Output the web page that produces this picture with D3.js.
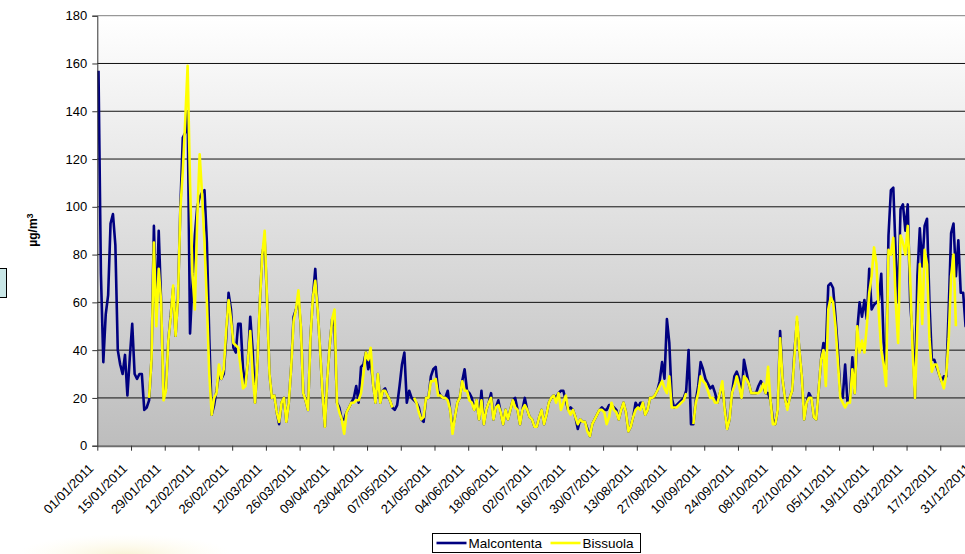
<!DOCTYPE html>
<html>
<head>
<meta charset="utf-8">
<script src="https://cdn.jsdelivr.net/npm/d3@7"></script>
<style>
body { margin: 0; background: #fff; }
svg { display: block; font-family: "Liberation Sans", Arial, sans-serif; }
</style>
</head>
<body>
<div class="chart-container"></div>
<script>
const width = 965;
const height = 554;

// tick labels, one every 14 days
const tickLabels = ["01/01/2011","15/01/2011","29/01/2011","12/02/2011","26/02/2011","12/03/2011","26/03/2011",
    "09/04/2011","23/04/2011","07/05/2011","21/05/2011","04/06/2011","18/06/2011","02/07/2011","16/07/2011",
    "30/07/2011","13/08/2011","27/08/2011","10/09/2011","24/09/2011","08/10/2011","22/10/2011","05/11/2011",
    "19/11/2011","03/12/2011","17/12/2011","31/12/2011"];
const labelEvery = 14;
const yTicks = [0, 20, 40, 60, 80, 100, 120, 140, 160, 180];
const seriesNames = ["Malcontenta", "Bissuola"];

// daily values 01/01 -> 31/12 (µg/m3), null = missing
const malcontenta = [
157,72,35,55,63,93,97,84,40,34, 30,38,21,37,51,30,28,30,30,15,
16,19,36,92,55,90,60,20,24,44, 55,66,46,62,100,129,131,140,47,68,
88,100,104,106,107,85,45,13,17,23, 30,28,30,45,64,57,41,39,51,51,
32,26,35,54,40,18,35,60,80,86, 60,30,20,21,14,9,18,20,10,18,
33,54,57,62,50,22,19,15,45,62, 74,57,40,22,8,28,42,53,50,18,
16,11,11,14,16,18,20,25,18,33, 34,39,32,36,26,18,30,18,23,24,
21,19,16,15,17,25,34,39,18,23, 20,19,18,16,11,10,20,20,29,32,
33,23,21,20,20,23,15,7,12,18, 20,27,32,23,22,20,15,19,11,23,
9,15,18,22,11,16,19,14,9,15, 11,15,19,20,15,9,15,20,15,12,
11,8,8,12,15,9,13,18,20,21, 20,22,23,23,19,15,16,15,12,7,
11,10,10,7,4,9,11,13,15,16, 15,15,17,17,16,15,11,15,18,14,
6,8,12,18,16,18,18,13,15,20, 20,21,23,27,35,28,53,43,20,16,
17,18,19,20,23,40,9,9,19,25, 35,32,28,26,24,25,22,18,22,25,
16,7,11,22,29,31,28,20,36,31, 26,22,22,22,25,27,25,22,22,19,
11,9,15,48,28,20,16,20,23,40, 52,40,29,11,18,22,20,12,11,23,
36,43,40,67,68,66,54,40,22,20, 34,18,20,37,22,48,60,54,61,53,
74,57,59,60,61,72,43,32,88,107, 108,80,60,99,101,90,101,60,46,20,
71,91,75,92,95,60,36,36,33,30, 27,29,29,57,89,93,71,86,64,64,
50,55,48,60,52
];

const bissuola = [
null,null,null,null,null,null,null,null,null,null, null,null,null,null,null,null,null,null,null,null,
null,20,36,85,50,74,60,19,23,44, 54,67,46,62,99,115,136,159,110,72,
57,95,122,105,85,60,30,13,20,22, 34,28,32,48,61,53,43,42,41,33,
24,25,35,48,30,18,35,60,80,90, 60,30,20,21,14,10,18,20,10,18,
33,52,57,65,50,22,19,15,45,62, 69,57,40,22,8,28,42,53,57,18,
14,11,5,14,16,18,18,19,19,22, 30,39,36,41,26,18,30,18,23,23,
21,19,16,null,null,null,null,null,null,null, null,20,18,14,11,12,20,20,27,27,
28,21,21,20,20,19,15,5,12,18, 20,27,23,23,19,18,15,19,11,19,
9,15,18,20,11,16,17,14,9,15, 11,15,19,16,15,9,15,17,15,12,
11,8,8,12,15,9,13,18,20,21, 18,22,15,18,21,15,13,15,12,9,
11,10,10,6,4,9,11,13,15,15, 14,9,12,18,15,14,11,15,18,14,
6,8,12,15,16,15,18,13,15,20, 20,21,23,25,27,24,22,29,16,16,
16,17,18,19,22,null,null,9,18,22, 29,27,26,23,20,20,18,18,22,27,
15,7,11,22,25,29,25,20,29,28, 26,22,22,22,22,23,26,22,33,19,
9,9,15,45,28,20,15,20,23,38, 54,40,29,11,18,20,20,12,11,23,
36,40,25,57,62,60,50,35,20,18, 16,18,18,32,22,50,39,44,39,50,
64,71,83,76,55,40,34,25,82,80, 87,60,43,88,85,80,92,70,40,20,
50,76,51,82,76,45,31,34,34,30, 27,24,30,45,71,80,50,null,null,null,
null,null,null,null,null
];

const colors = ["#000080", "#ffff00"];

const margin = { left: 97.3, top: 15.7, bottom: 445.7 };
const plotRight = 976.4;   // the plot runs past the right edge of the picture

const svg = d3.select(".chart-container").append("svg")
    .attr("width", width)
    .attr("height", height);

const defs = svg.append("defs");
const grad = defs.append("linearGradient")
    .attr("id", "plotBg")
    .attr("x1", 0).attr("y1", 0).attr("x2", 0).attr("y2", 1);
grad.append("stop").attr("offset", "0%").attr("stop-color", "#ffffff");
grad.append("stop").attr("offset", "100%").attr("stop-color", "#bdbdbd");

const glow = defs.append("radialGradient").attr("id", "glow");
glow.append("stop").attr("offset", "0%").attr("stop-color", "#f7efc8").attr("stop-opacity", 0.8);
glow.append("stop").attr("offset", "100%").attr("stop-color", "#fffbe8").attr("stop-opacity", 0);

const x = d3.scaleLinear()
    .domain([0, malcontenta.length])
    .range([margin.left, plotRight]);

const y = d3.scaleLinear()
    .domain([0, 180])
    .range([margin.bottom, margin.top]);

// plot background
svg.append("rect")
    .attr("x", x(0))
    .attr("y", y(180))
    .attr("width", x(malcontenta.length) - x(0))
    .attr("height", y(0) - y(180))
    .attr("fill", "url(#plotBg)");

// gridlines
svg.append("g")
    .selectAll("line")
    .data(yTicks.filter(d => d > 0))
    .enter().append("line")
    .attr("x1", x(0))
    .attr("x2", x(malcontenta.length))
    .attr("y1", d => y(d))
    .attr("y2", d => y(d))
    .attr("stroke", d => d === 180 ? "#808080" : "#111")
    .attr("stroke-width", 1);

// lines
const line = d3.line()
    .defined(d => d != null)
    .x((d, i) => x(i + 0.5))
    .y(d => y(d));

[malcontenta, bissuola].forEach((data, k) => {
    svg.append("path")
        .datum(data)
        .attr("d", line)
        .attr("fill", "none")
        .attr("stroke", colors[k])
        .attr("stroke-width", 2.6)
        .attr("stroke-linejoin", "round");
});

// y axis
const yAxis = svg.append("g")
    .attr("transform", `translate(${x(0)},0)`)
    .call(d3.axisLeft(y).tickValues(yTicks).tickSize(5).tickPadding(5));
yAxis.select(".domain").attr("stroke", "#333");
yAxis.selectAll(".tick line").attr("stroke", "#333");
yAxis.selectAll("text").attr("font-size", "13px").attr("fill", "#000")
    .attr("font-family", "Liberation Sans, Arial, sans-serif");

// x axis
const xAxis = svg.append("g")
    .attr("transform", `translate(0,${y(0)})`)
    .call(d3.axisBottom(x)
        .tickValues(tickLabels.map((d, i) => i * labelEvery))
        .tickFormat((d, i) => tickLabels[i])
        .tickSize(5)
        .tickSizeOuter(0));
xAxis.select(".domain").attr("stroke", "#6e6e6e").attr("stroke-width", 2);
xAxis.selectAll(".tick line").attr("stroke", "#333");
xAxis.selectAll("text")
    .attr("font-size", "13px")
    .attr("fill", "#000")
    .attr("font-family", "Liberation Sans, Arial, sans-serif")
    .attr("text-anchor", "end")
    .attr("dy", "0.35em")
    .attr("transform", "translate(-13,14) rotate(-45)")
    .attr("x", 0)
    .attr("y", 9);

// y title
const yTitle = svg.append("text")
    .attr("transform", "translate(37,230) rotate(-90)")
    .attr("text-anchor", "middle")
    .attr("font-size", "12px")
    .attr("font-weight", "bold");
yTitle.append("tspan").text("µg/m");
yTitle.append("tspan").attr("dy", "-0.45em").attr("font-size", "9px").text("3");

// clipped box on the left
svg.append("rect")
    .attr("x", -1.5).attr("y", 268.5)
    .attr("width", 8).attr("height", 29)
    .attr("fill", "#c9e7e7")
    .attr("stroke", "#000");

// faint blob bottom left
svg.append("ellipse")
    .attr("cx", 125).attr("cy", 556)
    .attr("rx", 110).attr("ry", 22)
    .attr("fill", "url(#glow)");

// legend
const legend = svg.append("g").attr("transform", "translate(432.5,533.5)");
legend.append("rect")
    .attr("width", 208).attr("height", 19)
    .attr("fill", "#fff").attr("stroke", "#000");
const legendX = [4, 118];
seriesNames.forEach((name, k) => {
    legend.append("line")
        .attr("x1", legendX[k]).attr("x2", legendX[k] + 30)
        .attr("y1", 9.5).attr("y2", 9.5)
        .attr("stroke", colors[k]).attr("stroke-width", 2.6);
    legend.append("text")
        .attr("x", legendX[k] + 32).attr("y", 14)
        .attr("font-size", "13.5px")
        .text(name);
});
</script>
</body>
</html>
